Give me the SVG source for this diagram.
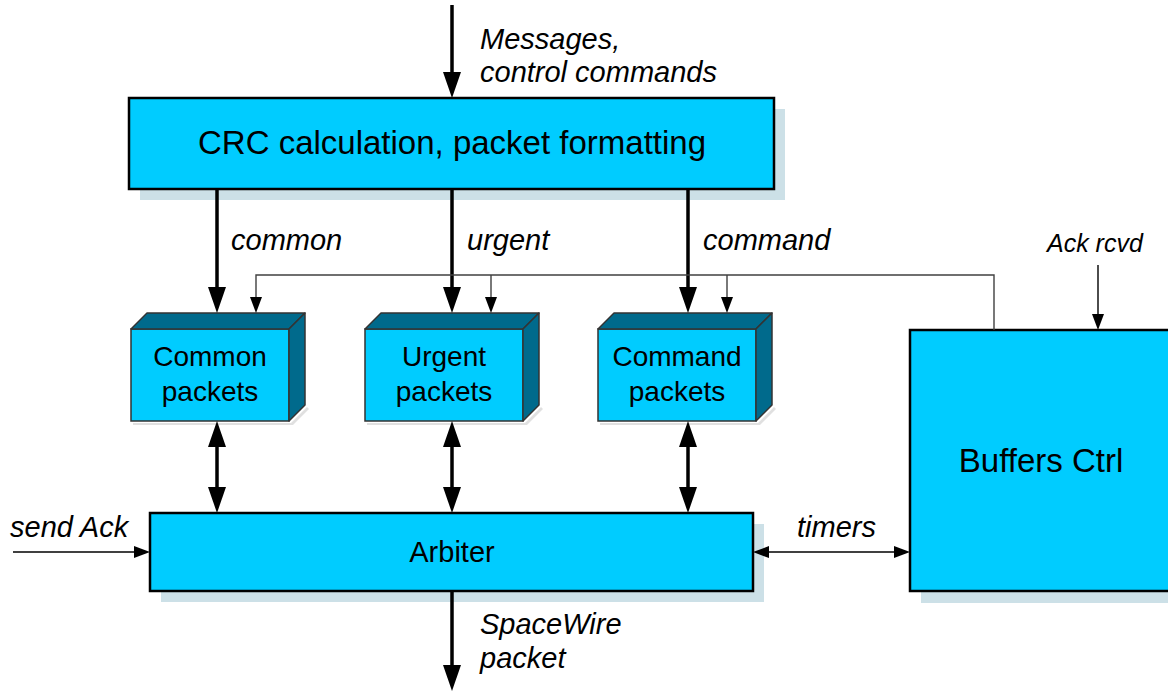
<svg xmlns="http://www.w3.org/2000/svg" width="1168" height="694" viewBox="0 0 1168 694">
  <style>
    .box { fill: #00ccff; stroke: #000; stroke-width: 2.5; }
    .shadow { fill: #cce0e7; }
    .cube-front { fill: #00ccff; stroke: #333; stroke-width: 1.5; }
    .cube-dark { fill: #006a8c; stroke: #333; stroke-width: 1.5; stroke-linejoin: round; }
    .cube-shade { fill: #000; opacity: 0.12; }
    .title { font-family: "Liberation Sans", Arial, sans-serif; fill: #000; text-anchor: middle; }
    .label { font-family: "Liberation Sans", Arial, sans-serif; font-style: italic; fill: #000; }
    .thick { stroke: #000; stroke-width: 3.5; fill: none; }
    .thin { stroke: #000; stroke-width: 1.4; fill: none; }
    .feed { stroke: #404040; stroke-width: 1.4; fill: none; }
  </style>
  <defs>
    <marker id="headThick" markerUnits="userSpaceOnUse" viewBox="0 0 26 18" refX="16" refY="9" markerWidth="26" markerHeight="18" orient="auto-start-reverse">
      <path d="M0,0 L26,9 L0,18 z" fill="#000"/>
    </marker>
    <marker id="headThin" markerUnits="userSpaceOnUse" viewBox="0 0 16 12" refX="12" refY="6" markerWidth="16" markerHeight="12" orient="auto-start-reverse">
      <path d="M0,0 L16,6 L0,12 z" fill="#000"/>
    </marker>
  </defs>

  <!-- CRC / packet formatting block -->
  <g id="crc">
    <rect class="shadow" x="140" y="109" width="645" height="91"/>
    <rect class="box" x="129" y="98" width="645" height="91"/>
    <text class="title" x="452" y="154" font-size="33">CRC calculation, packet formatting</text>
  </g>

  <!-- Packet buffers -->
  <g id="common-packets">
    <path class="cube-shade" d="M291,423 L307,407 L309,409 L293,425 L133,425 L133,423 z"/>
    <rect class="cube-front" x="131" y="329" width="158" height="92"/>
    <path class="cube-dark" d="M131,329 L147,313 L305,313 L289,329 z"/>
    <path class="cube-dark" d="M289,329 L305,313 L305,405 L289,421 z"/>
    <text class="title" x="210" y="366" font-size="28">Common</text>
    <text class="title" x="210" y="401" font-size="28">packets</text>
  </g>
  <g id="urgent-packets">
    <path class="cube-shade" d="M525,423 L541,407 L543,409 L527,425 L367,425 L367,423 z"/>
    <rect class="cube-front" x="365" y="329" width="158" height="92"/>
    <path class="cube-dark" d="M365,329 L381,313 L539,313 L523,329 z"/>
    <path class="cube-dark" d="M523,329 L539,313 L539,405 L523,421 z"/>
    <text class="title" x="444" y="366" font-size="28">Urgent</text>
    <text class="title" x="444" y="401" font-size="28">packets</text>
  </g>
  <g id="command-packets">
    <path class="cube-shade" d="M758,423 L774,407 L776,409 L760,425 L600,425 L600,423 z"/>
    <rect class="cube-front" x="598" y="329" width="158" height="92"/>
    <path class="cube-dark" d="M598,329 L614,313 L772,313 L756,329 z"/>
    <path class="cube-dark" d="M756,329 L772,313 L772,405 L756,421 z"/>
    <text class="title" x="677" y="366" font-size="28">Command</text>
    <text class="title" x="677" y="401" font-size="28">packets</text>
  </g>

  <!-- Arbiter -->
  <g id="arbiter">
    <rect class="shadow" x="161" y="524" width="603" height="78"/>
    <rect class="box" x="150" y="513" width="603" height="78"/>
    <text class="title" x="452" y="562" font-size="29">Arbiter</text>
  </g>

  <!-- Buffer controller -->
  <g id="buffers-ctrl">
    <rect class="shadow" x="921" y="341" width="270" height="262"/>
    <rect class="box" x="910" y="330" width="270" height="261"/>
    <text class="title" x="1041" y="472" font-size="33">Buffers Ctrl</text>
  </g>

  <!-- Connectors -->
  <g id="connectors">
    <!-- input messages -->
    <line class="thick" x1="452" y1="5" x2="452" y2="88" marker-end="url(#headThick)"/>
    <!-- formatted packets to buffers -->
    <line class="thick" x1="217" y1="189" x2="217" y2="303" marker-end="url(#headThick)"/>
    <line class="thick" x1="452" y1="189" x2="452" y2="303" marker-end="url(#headThick)"/>
    <line class="thick" x1="688" y1="189" x2="688" y2="303" marker-end="url(#headThick)"/>
    <!-- buffer control feed -->
    <polyline class="feed" points="994,330 994,275 256,275 256,309" marker-end="url(#headThin)"/>
    <line class="feed" x1="491" y1="275" x2="491" y2="309" marker-end="url(#headThin)"/>
    <line class="feed" x1="727" y1="275" x2="727" y2="309" marker-end="url(#headThin)"/>
    <!-- acknowledge received -->
    <line class="thin" x1="1098" y1="265" x2="1098" y2="326" marker-end="url(#headThin)"/>
    <!-- buffers to arbiter -->
    <line class="thick" x1="217" y1="431" x2="217" y2="503" marker-start="url(#headThick)" marker-end="url(#headThick)"/>
    <line class="thick" x1="452" y1="431" x2="452" y2="503" marker-start="url(#headThick)" marker-end="url(#headThick)"/>
    <line class="thick" x1="688" y1="431" x2="688" y2="503" marker-start="url(#headThick)" marker-end="url(#headThick)"/>
    <!-- send ack -->
    <line class="thin" x1="13" y1="552" x2="146" y2="552" marker-end="url(#headThin)"/>
    <!-- timers -->
    <line class="thin" x1="757" y1="552" x2="906" y2="552" marker-start="url(#headThin)" marker-end="url(#headThin)"/>
    <!-- output packet -->
    <line class="thick" x1="452" y1="591" x2="452" y2="681" marker-end="url(#headThick)"/>
  </g>

  <!-- Connector labels -->
  <g id="labels">
    <text class="label" x="480" y="49" font-size="29">Messages,</text>
    <text class="label" x="480" y="82" font-size="29">control commands</text>
    <text class="label" x="231" y="250" font-size="29">common</text>
    <text class="label" x="467" y="250" font-size="29">urgent</text>
    <text class="label" x="703" y="250" font-size="29">command</text>
    <text class="label" x="1047" y="252" font-size="25">Ack rcvd</text>
    <text class="label" x="10" y="537" font-size="29">send Ack</text>
    <text class="label" x="797" y="537" font-size="29">timers</text>
    <text class="label" x="480" y="634" font-size="29">SpaceWire</text>
    <text class="label" x="480" y="668" font-size="29">packet</text>
  </g>
</svg>
